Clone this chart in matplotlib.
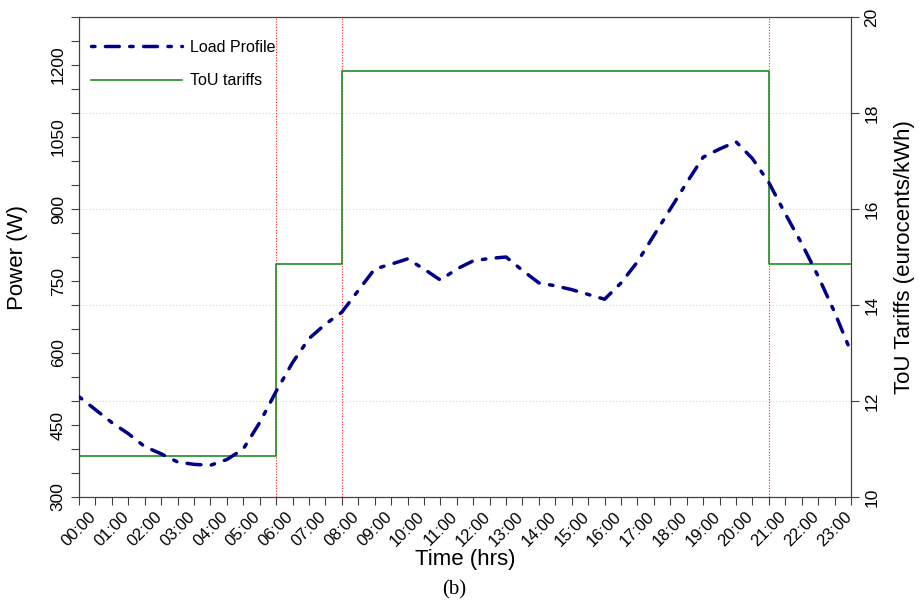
import matplotlib
matplotlib.use("Agg")
import matplotlib.pyplot as plt
from matplotlib.ticker import MultipleLocator, FixedLocator
import numpy as np

plt.rcParams['font.family'] = ['Liberation Sans', 'DejaVu Sans']

# Half-hourly household load profile (W), 00:00 ... 23:30
load_hours = np.arange(0, 24, 0.5)
load_power = [509, 482, 455, 432, 405, 390, 373, 368, 366, 378,
              400, 455, 520, 580, 630, 660, 685, 730, 775, 785,
              796, 775, 752, 775, 792, 797, 800, 772, 746, 740,
              732, 722, 712, 746, 790, 845, 900, 955, 1008, 1025,
              1040, 1005, 955, 890, 828, 760, 685, 602]

# Time-of-use tariff (eurocents/kWh): change points and levels
tou_hours = [0, 6, 8, 21, 23.5]
tou_price = [10.85, 14.86, 18.87, 14.86, 14.86]
tou_switch = [6, 8, 21]

hour_labels = ["%02d:00" % h for h in range(24)]

fig = plt.figure(figsize=(9.2, 6.07), dpi=100)
ax = fig.add_axes([79 / 920, 1 - 497 / 607, 772 / 920, 480 / 607])
# Power axis drawn on top of the tariff axis
axp = ax.twinx()

# Tariff axis, scale on the right
ax.yaxis.tick_right()
ax.yaxis.set_label_position('right')
ax.set_xlim(0, 23.5)
ax.set_ylim(10, 20)
ax.yaxis.set_major_locator(MultipleLocator(2))
ax.yaxis.grid(True, linestyle=(0, (1, 2)), color='#d4d4d4', lw=0.8)
ax.set_axisbelow(True)
for h in tou_switch:
    ax.axvline(h, color='#ff2020', lw=0.8, linestyle=(0, (1, 1.5)), zorder=1)
tou_line, = ax.plot(tou_hours, tou_price, drawstyle='steps-post',
                    color='#228b22', lw=1.2, zorder=2, label='ToU tariffs')
ax.set_ylabel('ToU Tariffs (eurocents/kWh)', fontsize=16)
ax.yaxis.set_label_coords(1.056, 0.5)

# Power axis, scale on the left
axp.yaxis.tick_left()
axp.yaxis.set_label_position('left')
axp.set_ylim(300, 1300)
axp.yaxis.set_major_locator(MultipleLocator(150))
axp.yaxis.set_minor_locator(MultipleLocator(50))
load_line, = axp.plot(load_hours, load_power, color='#00008b', lw=2.5,
                      linestyle=(0, (1, 3, 4, 3)), dash_capstyle='round',
                      solid_capstyle='round', label='Load Profile', zorder=3)
axp.set_ylabel('Power (W)', fontsize=16)
axp.yaxis.set_label_coords(-0.066, 0.5)

ax.xaxis.set_major_locator(FixedLocator(range(24)))
ax.xaxis.set_minor_locator(MultipleLocator(0.5))
ax.set_xticklabels(hour_labels, rotation=45, ha='center', fontsize=12)
ax.set_xlabel('Time (hrs)', fontsize=16)
ax.xaxis.set_label_coords(0.5, -0.108)

spine_col = '#404040'
for a in (ax, axp):
    for s in a.spines.values():
        s.set_color(spine_col)
        s.set_linewidth(0.8)
    a.tick_params(which='both', length=5.5, width=0.8, color=spine_col, direction='out')

ax.tick_params(axis='y', labelsize=12.5, labelrotation=90, pad=4)
ax.tick_params(axis='x', pad=3)
axp.tick_params(axis='y', labelsize=12.5, labelrotation=90, pad=4)
for lab in ax.get_yticklabels() + axp.get_yticklabels():
    lab.set_va('center')

leg = axp.legend(handles=[load_line, tou_line], loc='upper left',
                 bbox_to_anchor=(0.016, 0.953), frameon=False, fontsize=11.5,
                 handlelength=5.7, handletextpad=0.5, labelspacing=1.18,
                 borderpad=0, borderaxespad=0)

fig.text(454 / 920, 1 - 590 / 607, '(b)', ha='center', va='center',
         fontsize=15, family='Liberation Serif')

fig.savefig('out.png', dpi=100)
